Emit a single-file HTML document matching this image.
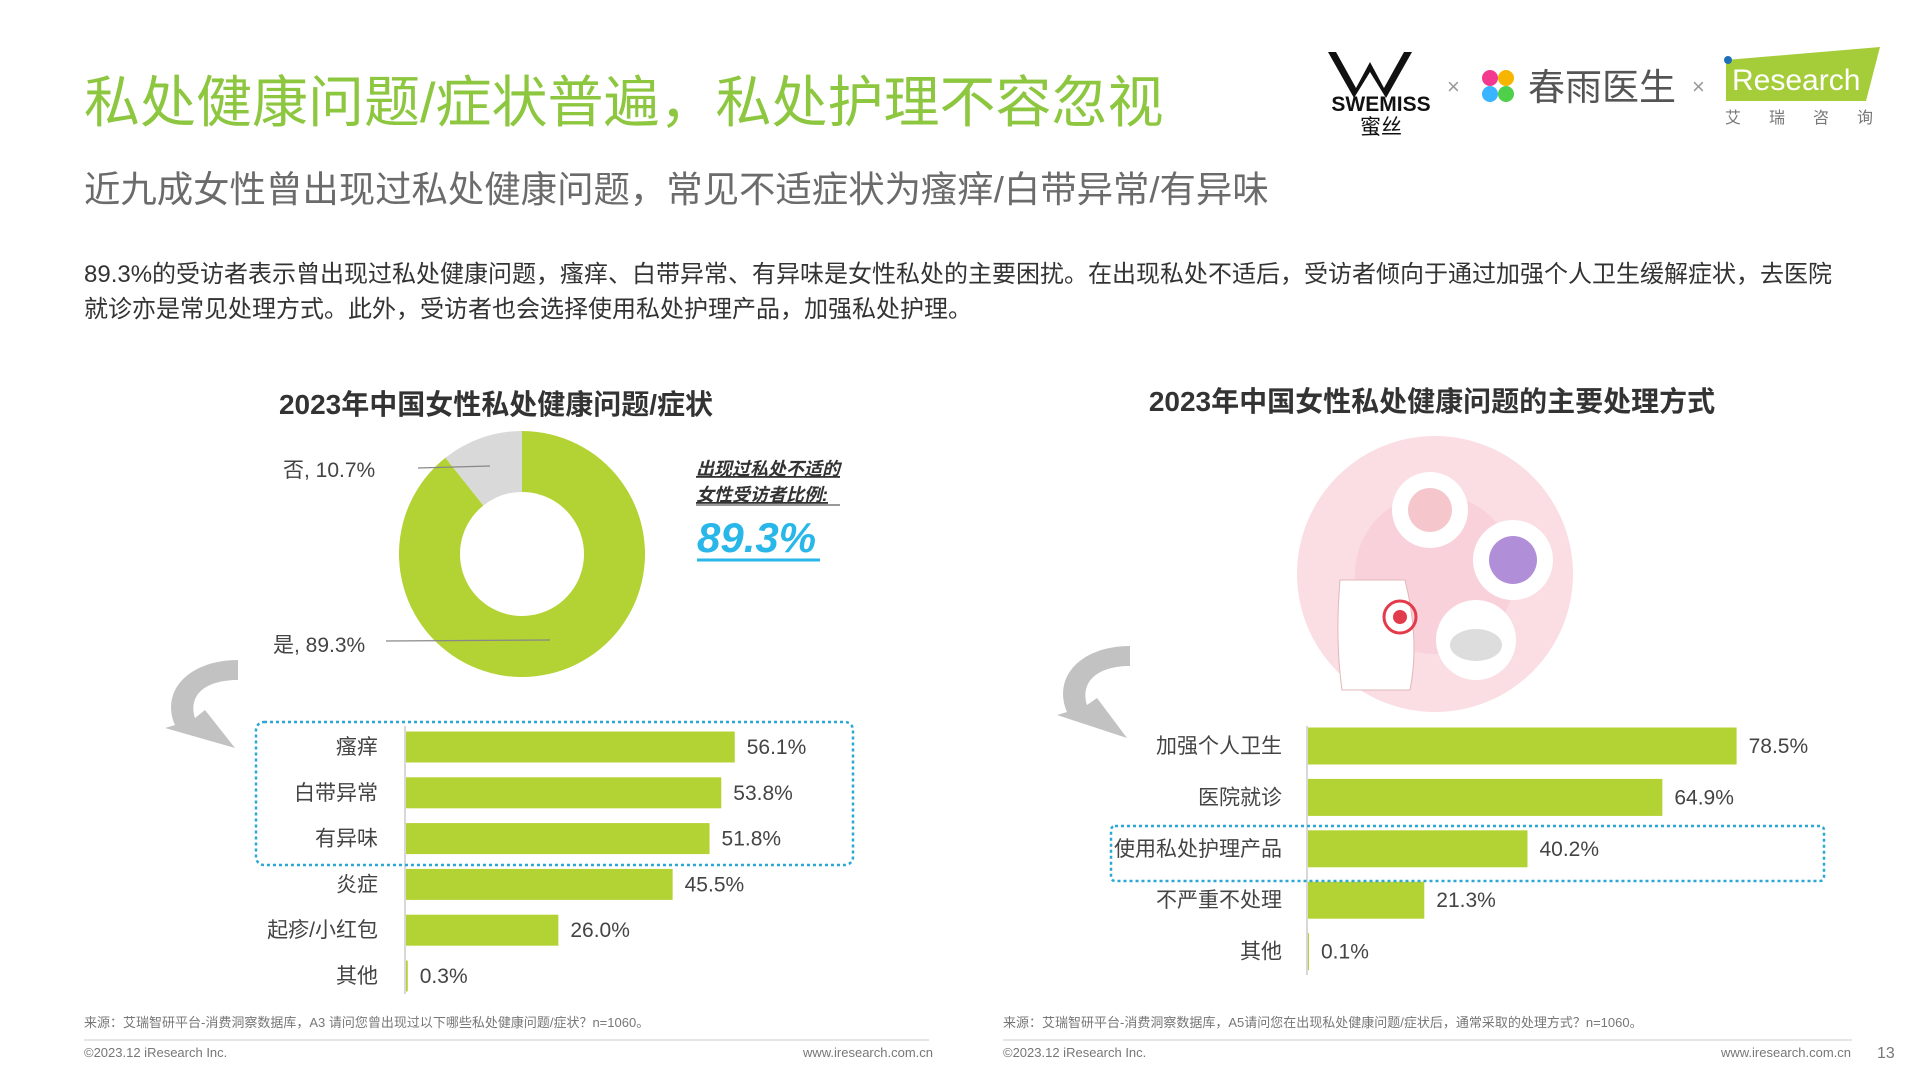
<!DOCTYPE html>
<html><head><meta charset="utf-8"><style>
html,body{margin:0;padding:0;background:#fff;}
svg{display:block;font-family:"Liberation Sans","Noto Sans CJK SC",sans-serif;}
</style></head><body>
<svg id="s" width="1920" height="1080" viewBox="0 0 1920 1080" xmlns="http://www.w3.org/2000/svg">
<text x="84" y="122" font-size="56" fill="#8dc63f">私处健康问题/症状普遍，私处护理不容忽视</text>
<text x="84" y="202" font-size="36.4" fill="#6b6b6b">近九成女性曾出现过私处健康问题，常见不适症状为瘙痒/白带异常/有异味</text>
<text x="84" y="282" font-size="24" fill="#333">89.3%的受访者表示曾出现过私处健康问题，瘙痒、白带异常、有异味是女性私处的主要困扰。在出现私处不适后，受访者倾向于通过加强个人卫生缓解症状，去医院</text>
<text x="84" y="317" font-size="24" fill="#333">就诊亦是常见处理方式。此外，受访者也会选择使用私处护理产品，加强私处护理。</text>

<!-- logos -->
<g>
<path d="M1336 52 L1356 88 L1370 62 L1384 88 L1404 52 L1412 52 L1386 98 L1370 72 L1354 98 L1328 52Z" fill="#111"/>
<text x="1381" y="111" font-size="21" font-weight="bold" text-anchor="middle" fill="#111">SWEMISS</text>
<text x="1381" y="134" font-size="21" text-anchor="middle" fill="#111">蜜丝</text>
</g>
<text x="1447" y="94" font-size="22" fill="#999">×</text>
<g>
<circle cx="1490" cy="78" r="8" fill="#f2388f"/><circle cx="1506" cy="78" r="8" fill="#f7b500"/>
<circle cx="1490" cy="94" r="8" fill="#3bb4ff"/><circle cx="1506" cy="94" r="8" fill="#4fd04a"/>
<text x="1528" y="100" font-size="37" fill="#555">春雨医生</text>
</g>
<text x="1692" y="94" font-size="22" fill="#999">×</text>
<g>
<polygon points="1726,60 1880,47 1866,101 1726,101" fill="#a5cd39"/>
<circle cx="1728" cy="60" r="4" fill="#1f6fb8"/>
<text x="1732" y="90" font-size="30" fill="#fff">Research</text>
<text x="1725" y="123" font-size="16" fill="#777" letter-spacing="28">艾瑞咨询</text>
</g>

<!-- left chart -->
<text x="496" y="414" font-size="28" font-weight="bold" fill="#333" text-anchor="middle">2023年中国女性私处健康问题/症状</text>
<g id="donut"></g>
<line x1="418" y1="468" x2="490" y2="466" stroke="#888" stroke-width="1.2"/>
<line x1="386" y1="641" x2="550" y2="640" stroke="#888" stroke-width="1.2"/>
<text x="283" y="477" font-size="21" fill="#444">否, 10.7%</text>
<text x="273" y="652" font-size="21" fill="#444">是, 89.3%</text>
<g font-style="italic" font-weight="bold" font-size="18" fill="#333">
<text x="696" y="475" text-decoration="underline">出现过私处不适的</text>
<text x="696" y="501" text-decoration="underline">女性受访者比例:</text>
<line x1="696" y1="505" x2="840" y2="505" stroke="#333" stroke-width="1"/>
<text x="697" y="552" font-size="42" fill="#29b6e8">89.3%</text>
<line x1="697" y1="560" x2="820" y2="560" stroke="#29b6e8" stroke-width="3"/>
</g>
<path d="M238 660 C190 660 160 690 175 725 L165 728 L235 748 L205 710 L195 718 C188 695 205 680 238 680Z" fill="#c2c2c2"/>
<g id="leftBars"></g>
<rect x="256" y="722" width="597" height="143" rx="8" fill="none" stroke="#2aa7d3" stroke-width="2.5" stroke-dasharray="3,3"/>

<!-- right chart -->
<text x="1432" y="411" font-size="28" font-weight="bold" fill="#333" text-anchor="middle">2023年中国女性私处健康问题的主要处理方式</text>
<g>
<circle cx="1435" cy="574" r="138" fill="#fbdde4"/>
<circle cx="1435" cy="574" r="80" fill="#f8c9d4" opacity="0.6"/>
<circle cx="1430" cy="510" r="38" fill="#fff"/>
<circle cx="1513" cy="560" r="40" fill="#fff"/>
<circle cx="1476" cy="640" r="40" fill="#fff"/>
<circle cx="1430" cy="510" r="22" fill="#f5c6cc"/>
<circle cx="1513" cy="560" r="24" fill="#b08fd8"/>
<ellipse cx="1476" cy="645" rx="26" ry="16" fill="#ddd"/>
<path d="M1340 580 Q1335 640 1342 690 L1410 690 Q1420 640 1405 580Z" fill="#fff" stroke="#e0b8b8"/>
<circle cx="1400" cy="617" r="16" fill="none" stroke="#e23b4b" stroke-width="3"/>
<circle cx="1400" cy="617" r="7" fill="#e23b4b"/>
</g>
<path d="M1130 646 C1082 646 1052 676 1067 712 L1057 715 L1127 738 L1097 698 L1087 705 C1080 682 1097 666 1130 666Z" fill="#c2c2c2"/>
<g id="rightBars"></g>
<rect x="1111" y="826" width="713" height="55" rx="4" fill="none" stroke="#2aa7d3" stroke-width="2.5" stroke-dasharray="3,3"/>

<!-- footer -->
<text x="84" y="1027" font-size="13" fill="#777">来源：艾瑞智研平台-消费洞察数据库，A3 请问您曾出现过以下哪些私处健康问题/症状？n=1060。</text>
<text x="1003" y="1027" font-size="13" fill="#777">来源：艾瑞智研平台-消费洞察数据库，A5请问您在出现私处健康问题/症状后，通常采取的处理方式？n=1060。</text>
<line x1="84" y1="1040" x2="929" y2="1040" stroke="#ccc"/>
<line x1="1003" y1="1040" x2="1852" y2="1040" stroke="#ccc"/>
<text x="84" y="1057" font-size="13" fill="#777">©2023.12 iResearch Inc.</text>
<text x="933" y="1057" font-size="13" fill="#777" text-anchor="end">www.iresearch.com.cn</text>
<text x="1003" y="1057" font-size="13" fill="#777">©2023.12 iResearch Inc.</text>
<text x="1851" y="1057" font-size="13" fill="#777" text-anchor="end">www.iresearch.com.cn</text>
<text x="1877" y="1058" font-size="16" fill="#777">13</text>
</svg>
<script>
const donutCategories = ["是", "否"];
const donutValues = [89.3, 10.7];
const leftCategories = ["瘙痒", "白带异常", "有异味", "炎症", "起疹/小红包", "其他"];
const leftValues = [56.1, 53.8, 51.8, 45.5, 26.0, 0.3];
const rightCategories = ["加强个人卫生", "医院就诊", "使用私处护理产品", "不严重不处理", "其他"];
const rightValues = [78.5, 64.9, 40.2, 21.3, 0.1];

const NS = "http://www.w3.org/2000/svg";
function mk(tag, attrs, parent) {
  const e = document.createElementNS(NS, tag);
  for (const k in attrs) e.setAttribute(k, attrs[k]);
  parent.appendChild(e);
  return e;
}
(function () {
  const g = document.getElementById("donut");
  const cx = 522, cy = 554, R = 123, r = 62;
  const total = donutValues.reduce((a, b) => a + b, 0);
  const colors = ["#b3d233", "#d9d9d9"];
  let a0 = 0;
  donutValues.forEach((v, i) => {
    const a1 = a0 + v / total * 2 * Math.PI;
    const p = (a, rad) => [cx + rad * Math.sin(a), cy - rad * Math.cos(a)];
    const large = (a1 - a0) > Math.PI ? 1 : 0;
    const [x0, y0] = p(a0, R), [x1, y1] = p(a1, R), [x2, y2] = p(a1, r), [x3, y3] = p(a0, r);
    const path = mk("path", { d: `M${x0} ${y0} A${R} ${R} 0 ${large} 1 ${x1} ${y1} L${x2} ${y2} A${r} ${r} 0 ${large} 0 ${x3} ${y3}Z`, fill: colors[i] }, g);
    
    
    a0 = a1;
  });
})();
function bars(id, cats, vals, x0, yFirst, step, h, scale, labelX, axisTop, axisBot) {
  const g = document.getElementById(id);
  const ax = mk("line", { x1: x0, y1: axisTop, x2: x0, y2: axisBot, stroke: "#ccc", "stroke-width": 1.5 }, g);
  
  
  cats.forEach((c, i) => {
    const cy = yFirst + i * step;
    const w = Math.max(vals[i] * scale, 1);
    const b = mk("rect", { x: x0 + 1, y: cy - h / 2, width: w, height: h, fill: "#b3d233" }, g);
    
    
    const t = mk("text", { x: labelX, y: cy + 7, "font-size": 21, fill: "#444", "text-anchor": "end" }, g);
    t.textContent = c;
    
    
    const vt = mk("text", { x: x0 + 1 + w + 12, y: cy + 7, "font-size": 21, fill: "#444" }, g);
    vt.textContent = vals[i].toFixed(1) + "%";
    
    
  });
}
bars("leftBars", leftCategories, leftValues, 405, 747, 45.8, 31, 5.86, 378, 726, 994);
bars("rightBars", rightCategories, rightValues, 1307, 746, 51.4, 37, 5.46, 1282, 726, 975);
</script>
</body></html>
